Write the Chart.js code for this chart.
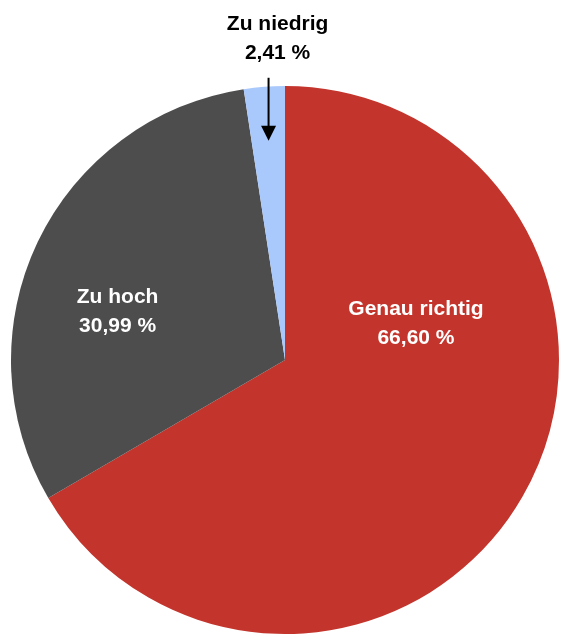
<!DOCTYPE html>
<html>
<head>
<meta charset="utf-8">
<script src="https://cdn.jsdelivr.net/npm/chart.js@4.4.1/dist/chart.umd.min.js"></script>
<style>
  html, body { margin: 0; padding: 0; background: #fff; }
  #wrap { width: 561px; height: 635px; position: relative; }
</style>
</head>
<body>
<div id="wrap"><canvas id="pieChart"></canvas></div>
<script>
// --- DATEN ---
const categories = ['Genau richtig', 'Zu hoch', 'Zu niedrig'];
const shares = [66.60, 30.99, 2.41];
const sliceColors = ['#c3352c', '#4d4d4d', '#a9c8fb'];

const fmt = v => v.toFixed(2).replace('.', ',') + ' %';

// Beschriftungen: Position relativ zum Mittelpunkt, in Radius-Einheiten
const labelSpots = [
    { dx: 0.478, dy: -0.133, color: '#fff' },
    { dx: -0.611, dy: -0.175, color: '#fff' },
    { dx: -0.027, dy: -1.172, color: '#000', arrow: { dx: -0.06, y0: -1.03, y1: -0.80 } }
];

const pieLabels = {
    id: 'pieLabels',
    afterDatasetsDraw(chart) {
        const { ctx } = chart;
        const arc = chart.getDatasetMeta(0).data[0];
        const cx = arc.x, cy = arc.y, r = arc.outerRadius;
        ctx.save();
        ctx.font = 'bold 21px "Liberation Sans", Arial, sans-serif';
        ctx.textAlign = 'center';
        ctx.textBaseline = 'middle';
        labelSpots.forEach((s, i) => {
            const x = cx + s.dx * r, y = cy + s.dy * r;
            ctx.fillStyle = s.color;
            ctx.fillText(categories[i], x, y - 14.5);
            ctx.fillText(fmt(shares[i]), x, y + 14.5);
            if (s.arrow) {
                const ax = cx + s.arrow.dx * r;
                const ay0 = cy + s.arrow.y0 * r, ay1 = cy + s.arrow.y1 * r;
                ctx.strokeStyle = '#000';
                ctx.lineWidth = 2;
                ctx.beginPath();
                ctx.moveTo(ax, ay0);
                ctx.lineTo(ax, ay1 - 12);
                ctx.stroke();
                ctx.fillStyle = '#000';
                ctx.beginPath();
                ctx.moveTo(ax - 7.5, ay1 - 15);
                ctx.lineTo(ax + 7.5, ay1 - 15);
                ctx.lineTo(ax, ay1);
                ctx.closePath();
                ctx.fill();
            }
        });
        ctx.restore();
    }
};

new Chart(document.getElementById('pieChart'), {
    type: 'pie',
    data: {
        labels: categories,
        datasets: [{
            data: shares,
            backgroundColor: sliceColors,
            borderWidth: 0
        }]
    },
    options: {
        responsive: true,
        maintainAspectRatio: false,
        animation: false,
        layout: { padding: { top: 86, left: 11, right: 2, bottom: 1 } },
        plugins: {
            legend: { display: false },
            tooltip: { enabled: false }
        }
    },
    plugins: [pieLabels]
});
</script>
</body>
</html>
